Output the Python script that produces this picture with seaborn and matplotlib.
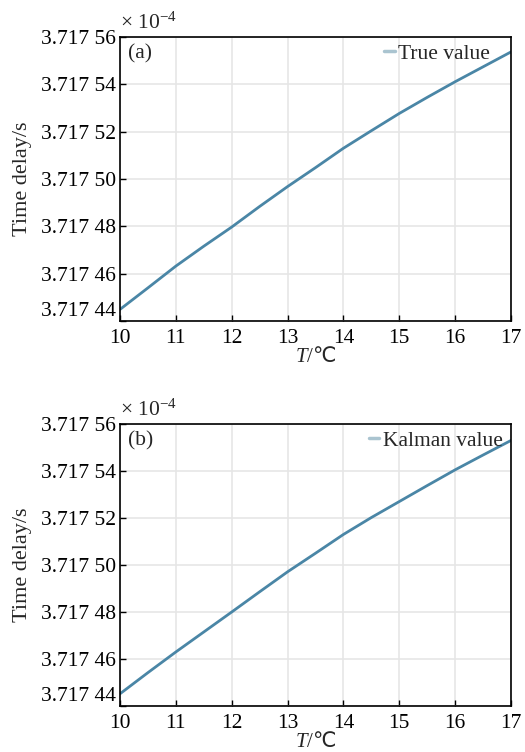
import matplotlib
matplotlib.use("Agg")
import matplotlib.pyplot as plt
import seaborn as sns
import pandas as pd
from matplotlib.ticker import FuncFormatter, FixedLocator

# Data (time delay in units of 1e-4 s)
temperature = [10, 10.5, 11, 11.5, 12, 12.5, 13, 13.5, 14, 14.5, 15, 15.5, 16, 16.5, 17]
true_value = [3.7174449, 3.7174540, 3.7174632, 3.7174716, 3.7174797, 3.7174884, 3.7174968,
              3.7175048, 3.7175130, 3.7175204, 3.7175277, 3.7175345, 3.7175411, 3.7175474, 3.7175537]
kalman_value = [3.7174452, 3.7174542, 3.7174630, 3.7174715, 3.7174800, 3.7174886, 3.7174971,
                3.7175050, 3.7175130, 3.7175202, 3.7175270, 3.7175338, 3.7175405, 3.7175468, 3.7175530]
yticks = [3.71744, 3.71746, 3.71748, 3.71750, 3.71752, 3.71754, 3.71756]
xticks = [10, 11, 12, 13, 14, 15, 16, 17]
panel_labels = ["(a)", "(b)"]
legend_labels = ["True value", "Kalman value"]

sns.set_theme(style="white")
plt.rcParams['font.family'] = ['Liberation Serif', 'DejaVu Serif', 'DejaVu Sans']
plt.rcParams['mathtext.fontset'] = 'custom'
plt.rcParams['mathtext.rm'] = 'Liberation Serif'
plt.rcParams['mathtext.it'] = 'Liberation Serif:italic'
plt.rcParams['mathtext.sf'] = 'Noto Sans CJK SC'

fig = plt.figure(figsize=(5.25, 7.52), dpi=100)
W, H = 525, 752
def pos(l, t, r, b):
    return [l / W, 1 - b / H, (r - l) / W, (b - t) / H]

axes = [fig.add_axes(pos(120, 37, 511, 321)), fig.add_axes(pos(120, 424, 511, 706))]
series = [true_value, kalman_value]
legend_anchor_x = [0.962, 0.995]
line_color = "#4a86a6"
handle_color = "#aac4d0"
FS = 15.5

def fmt(v, p):
    s = f"{v:.5f}"
    return s[:5] + " " + s[5:]

for ax, vals, plab, llab, ax_x in zip(axes, series, panel_labels, legend_labels, legend_anchor_x):
    df = pd.DataFrame({"T": temperature, "delay": vals})
    sns.lineplot(data=df, x="T", y="delay", ax=ax, color=line_color, linewidth=2.0, legend=False)
    ax.set_xlim(10, 17)
    ax.set_ylim(3.71744, 3.71756)
    ax.xaxis.set_major_locator(FixedLocator(xticks))
    ax.yaxis.set_major_locator(FixedLocator(yticks))
    ax.yaxis.set_major_formatter(FuncFormatter(fmt))
    ax.grid(True, color="#e6e6e6", linewidth=1.2)
    ax.set_axisbelow(True)
    for sp in ax.spines.values():
        sp.set_color("black")
        sp.set_linewidth(1.2)
    ax.tick_params(axis="both", direction="in", length=4, width=1, colors="black",
                   labelsize=FS, left=True, bottom=True)
    ax.tick_params(axis="y", pad=3)
    ax.tick_params(axis="x", pad=6)
    ax.set_xlabel(r"$T$/$\mathsf{℃}$", fontsize=15, labelpad=-1)
    ax.set_ylabel("Time delay/s", fontsize=16, labelpad=6)
    fig.canvas.draw()
    ylabs = ax.get_yticklabels()
    ylabs[0].set_verticalalignment("bottom")
    ax.text(0.02, 0.975, plab, transform=ax.transAxes, fontsize=FS, va="top", ha="left")
    ax.text(0.0, 1.01, r"$\times$ 10$^{-4}$", transform=ax.transAxes, fontsize=FS, va="bottom", ha="left")
    h = plt.Line2D([], [], color=handle_color, linewidth=2.5)
    ax.legend([h], [llab], loc="upper right", bbox_to_anchor=(ax_x, 1.0), frameon=False, fontsize=FS,
              handlelength=0.5, handletextpad=0.15, borderaxespad=0.15, borderpad=0.15)

fig.savefig("out.png", dpi=100)
